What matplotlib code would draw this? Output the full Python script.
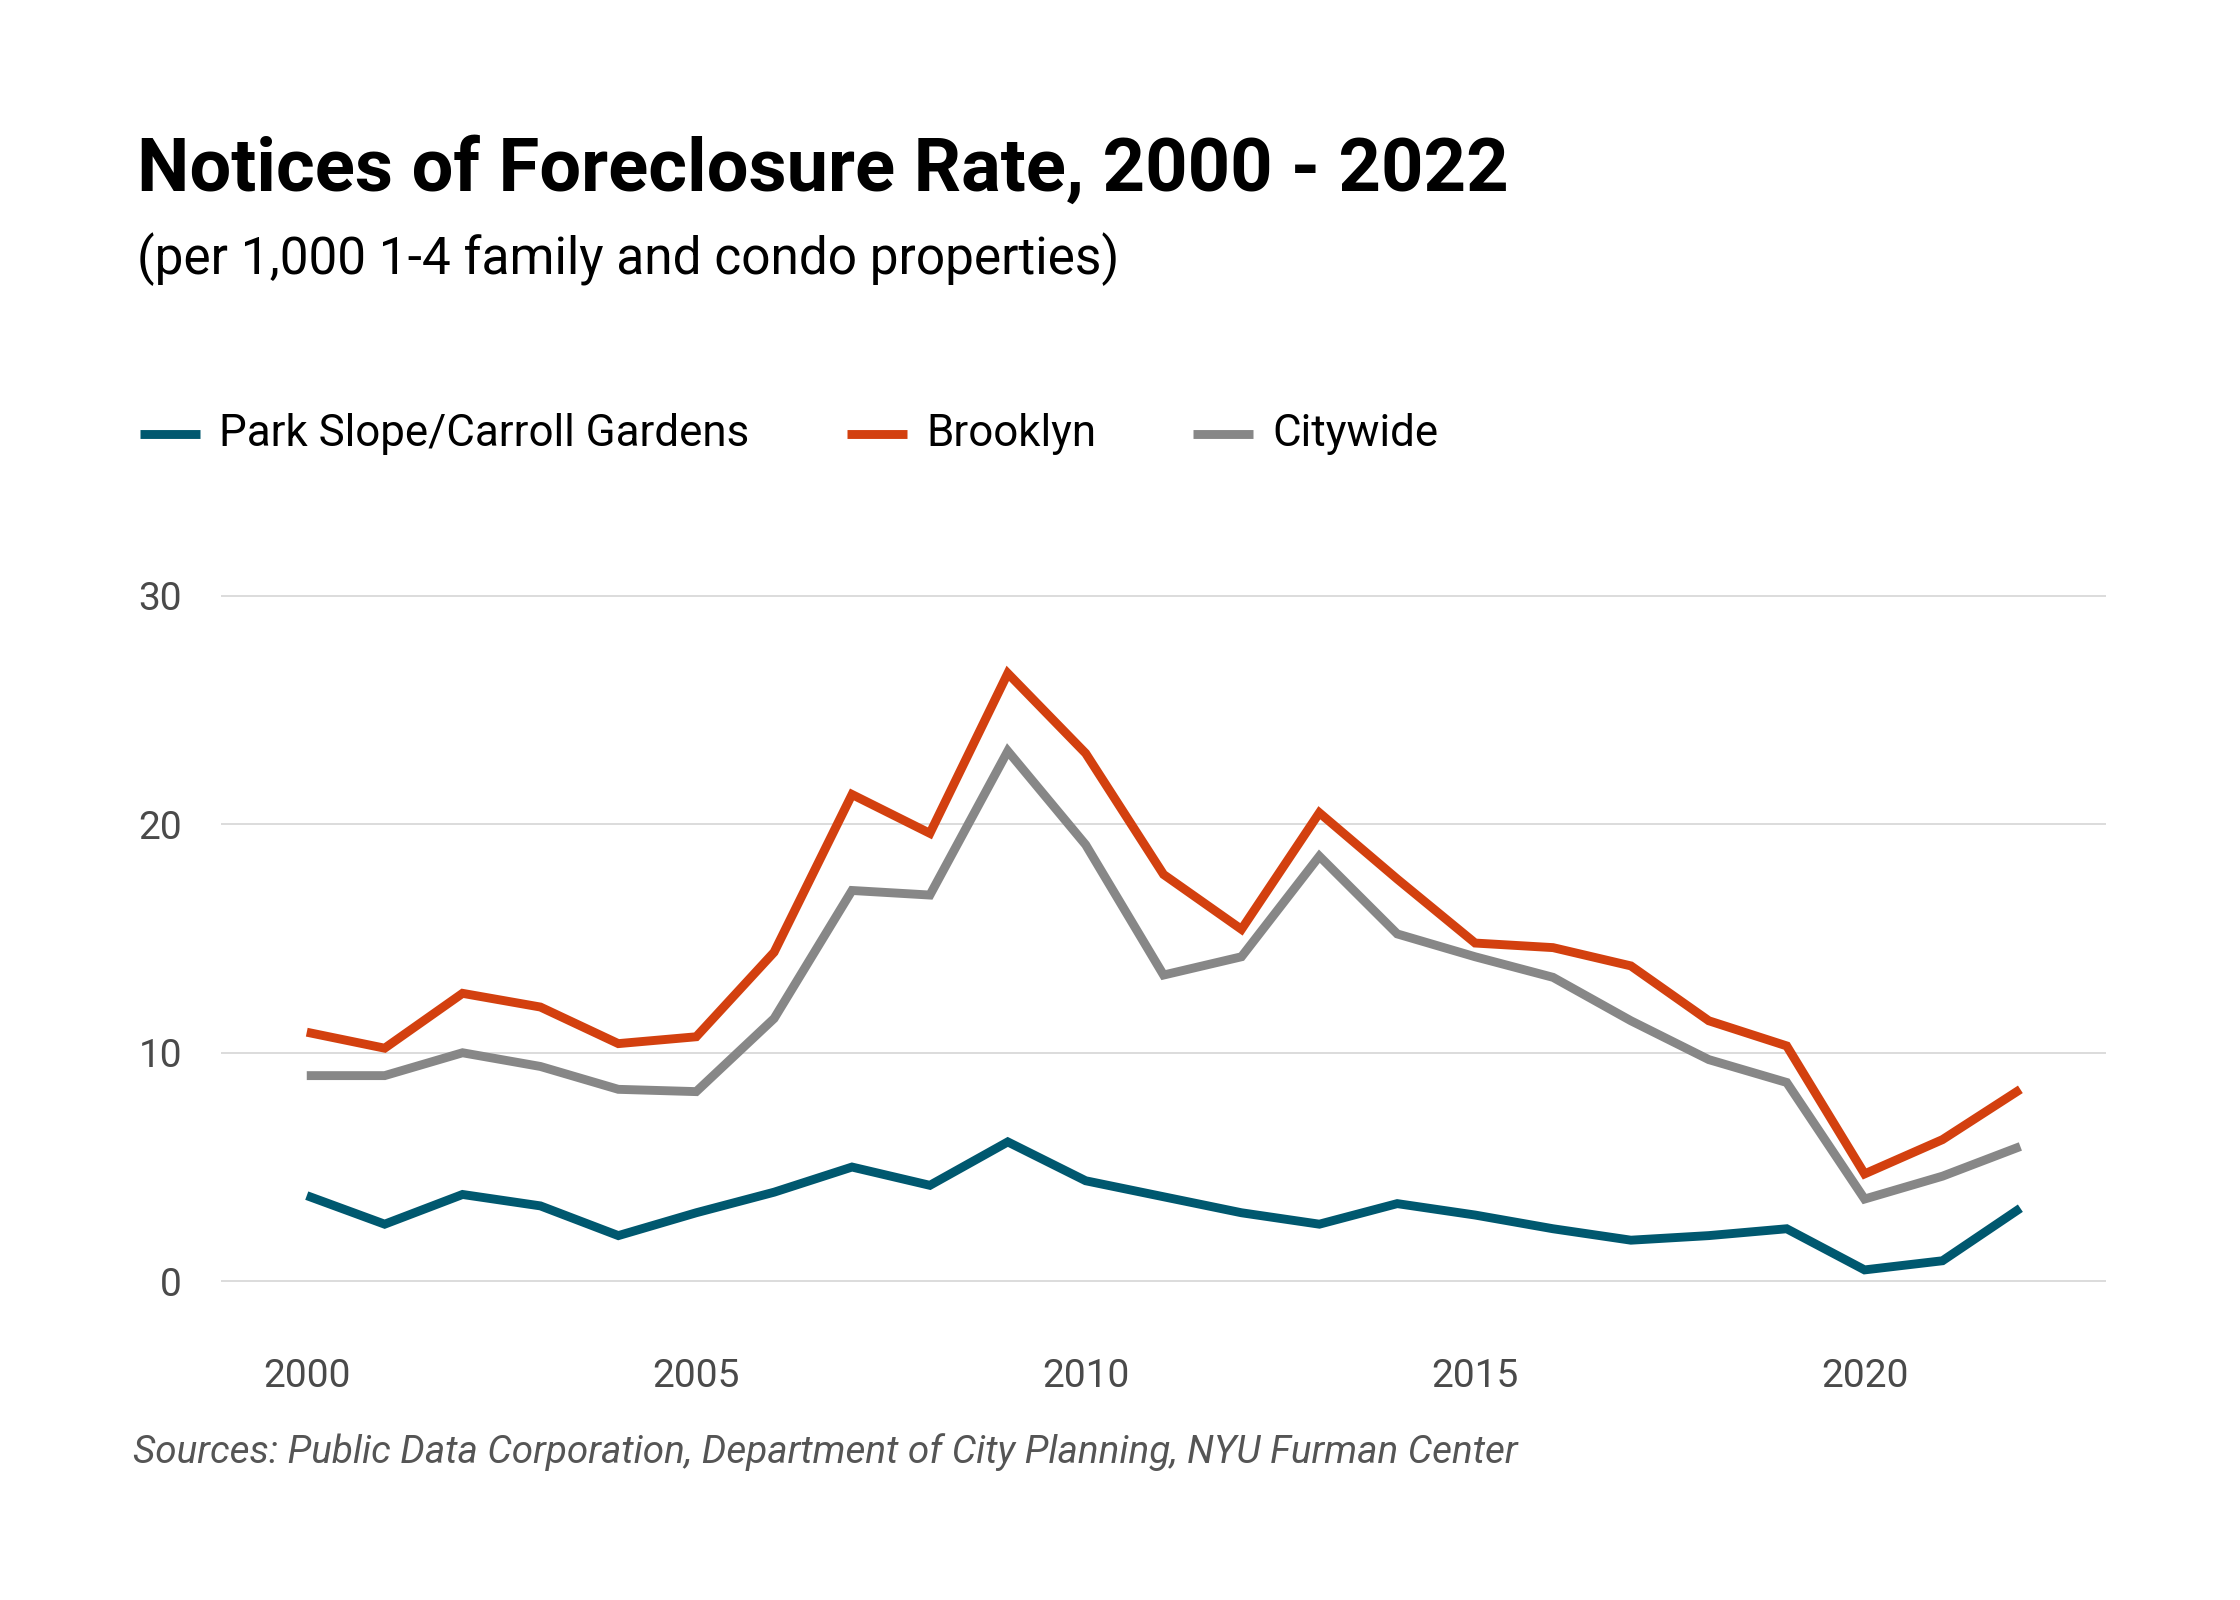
import numpy as np
import matplotlib
matplotlib.use("Agg")
import matplotlib.pyplot as plt
from matplotlib import font_manager
from matplotlib.lines import Line2D

years = np.arange(2000, 2023)

park_slope = [3.75, 2.5, 3.8, 3.3, 2.0, 3.0, 3.9, 5.0, 4.2, 6.1, 4.4, 3.7, 3.0, 2.5,
              3.4, 2.9, 2.3, 1.8, 2.0, 2.3, 0.5, 0.9, 3.2]
brooklyn = [10.9, 10.2, 12.6, 12.0, 10.4, 10.7, 14.4, 21.3, 19.6, 26.6, 23.1, 17.8, 15.4,
            20.5, 17.6, 14.8, 14.6, 13.8, 11.4, 10.3, 4.7, 6.2, 8.4]
citywide = [9.0, 9.0, 10.0, 9.4, 8.4, 8.3, 11.5, 17.1, 16.9, 23.2, 19.1, 13.4, 14.2,
            18.6, 15.2, 14.2, 13.3, 11.4, 9.7, 8.7, 3.6, 4.6, 5.9]

series_names = ["Park Slope/Carroll Gardens", "Brooklyn", "Citywide"]
series_colors = ["#00586f", "#d3400f", "#878787"]

y_ticks = [0, 10, 20, 30]
x_ticks = [2000, 2005, 2010, 2015, 2020]

title = "Notices of Foreclosure Rate, 2000 - 2022"
subtitle = "(per 1,000 1-4 family and condo properties)"
source = "Sources: Public Data Corporation, Department of City Planning, NYU Furman Center"

# pick fonts that exist in the sandbox
names = {f.name for f in font_manager.fontManager.ttflist}
body_font = "Roboto" if "Roboto" in names else "DejaVu Sans"
plt.rcParams["font.family"] = body_font

LW = 3.2

fig = plt.figure(figsize=(11.2, 8), dpi=200)
fig.patch.set_facecolor("white")

ax = fig.add_axes([0.0987, 0.1706, 0.8415, 0.4857])
for vals, color in zip([park_slope, brooklyn, citywide], series_colors):
    ax.plot(years, vals, color=color, linewidth=LW, solid_capstyle="butt",
            solid_joinstyle="miter", zorder=3)

ax.set_xlim(1998.9, 2023.1)
ax.set_ylim(-2, 32)
ax.set_yticks(y_ticks)
ax.set_xticks(x_ticks)
ax.yaxis.grid(True, color="#d5d5d5", linewidth=0.6)
ax.set_axisbelow(True)
for s in ax.spines.values():
    s.set_visible(False)
ax.tick_params(axis="both", length=0, colors="#4a4a4a", labelsize=14)
ax.tick_params(axis="y", pad=14)
ax.tick_params(axis="x", pad=11)

# titles
fig.text(0.061, 0.881, title, fontsize=26.7, fontweight="bold",
         color="black", va="baseline", ha="left")
fig.text(0.061, 0.829, subtitle, fontsize=18.5, color="black", va="baseline", ha="left")

# legend row
legend_y = 1 - 434 / 1600
handle_x = [140, 847, 1193]
for name, color, hx in zip(series_names, series_colors, handle_x):
    x0 = hx / 2240
    x1 = (hx + 60) / 2240
    fig.add_artist(Line2D([x0, x1], [legend_y, legend_y], color=color, linewidth=LW,
                          solid_capstyle="butt", transform=fig.transFigure))
    fig.text((hx + 79) / 2240, legend_y, name, fontsize=15.8, color="black",
             va="center", ha="left")

fig.text(0.0595, 1 - 1452 / 1600, source, fontsize=13.9, style="italic",
         color="#555555", va="center", ha="left")

fig.savefig("out.png", dpi=200, facecolor="white")
